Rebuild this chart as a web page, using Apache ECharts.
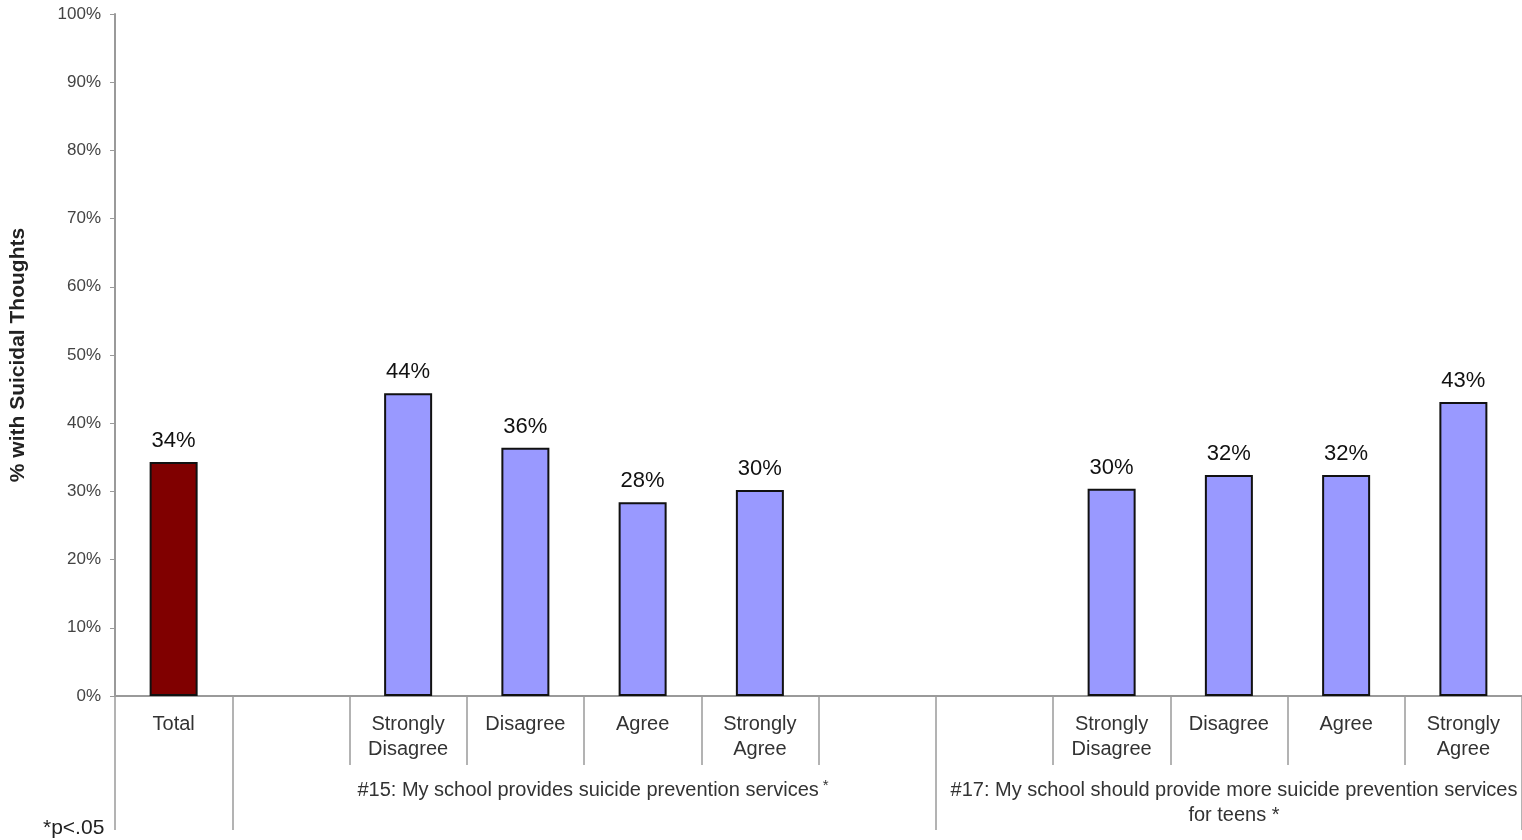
<!DOCTYPE html>
<html>
<head>
<meta charset="utf-8">
<script src="https://cdn.jsdelivr.net/npm/echarts@6/dist/echarts.min.js"></script>
<style>
html,body{margin:0;padding:0;background:#fff;}
#chart{width:1522px;height:840px;}
</style>
</head>
<body>
<div id="chart"></div>
<script>
// Data
var categories = ['Total', '', 'Strongly\nDisagree', 'Disagree', 'Agree', 'Strongly\nAgree', '', '', 'Strongly\nDisagree', 'Disagree', 'Agree', 'Strongly\nAgree'];
var values = [34.3, null, 44.4, 36.4, 28.4, 30.2, null, null, 30.4, 32.4, 32.4, 43.1];
var yTicks = [0, 10, 20, 30, 40, 50, 60, 70, 80, 90, 100];
var groupLabels = ['#15: My school provides suicide prevention services', '#17: My school should provide more suicide prevention services\nfor teens *'];
var footnote = '*p<.05';
var yTitle = '% with Suicidal Thoughts';

var FONT = '"Liberation Sans", Arial, sans-serif';
var shortTicks = [2, 3, 4, 5, 6, 8, 9, 10, 11];
var longTicks = [0, 1, 7];

var chart = echarts.init(document.getElementById('chart'), null, {renderer: 'canvas'});
var option = {
  animation: false,
  backgroundColor: '#ffffff',
  grid: {left: 115, right: -2, top: 14, bottom: 144, containLabel: false},
  xAxis: [{
    type: 'category',
    data: categories,
    position: 'bottom',
    axisLine: {show: true, lineStyle: {color: '#9a9a9a', width: 2}},
    axisTick: {show: true, length: 69, lineStyle: {color: '#9a9a9a', width: 1.5},
      interval: function (i) { return shortTicks.indexOf(i) >= 0; }},
    axisLabel: {show: true, interval: 0, margin: 16, color: '#333', fontSize: 20, lineHeight: 25, fontFamily: FONT},
    splitLine: {show: false}
  }, {
    type: 'category',
    data: categories,
    position: 'bottom',
    axisLine: {show: false},
    axisTick: {show: true, length: 134, lineStyle: {color: '#9a9a9a', width: 1.5},
      interval: function (i) { return longTicks.indexOf(i) >= 0; }},
    axisLabel: {show: false},
    splitLine: {show: false}
  }],
  yAxis: {
    type: 'value',
    min: 0, max: 100, interval: 10,
    name: yTitle,
    nameLocation: 'middle',
    nameGap: 86,
    nameTextStyle: {fontSize: 21, fontWeight: 'bold', color: '#222', fontFamily: FONT},
    axisLine: {show: true, lineStyle: {color: '#9a9a9a', width: 2}},
    axisTick: {show: true, length: 5, lineStyle: {color: '#9a9a9a'}},
    axisLabel: {margin: 14, color: '#444', fontSize: 17, fontFamily: FONT,
      formatter: function (v) { return yTicks.indexOf(v) >= 0 ? v + '%' : ''; }},
    splitLine: {show: false}
  },
  title: [{
    text: groupLabels[0] + '{s|*}',
    left: 588, top: 773,
    textAlign: 'center',
    textStyle: {fontSize: 20, fontWeight: 'normal', color: '#333', lineHeight: 25, fontFamily: FONT,
      rich: {s: {fontSize: 15, color: '#333', verticalAlign: 'top', lineHeight: 12, padding: [0, 0, 10, 4], fontFamily: FONT}}}
  }, {
    text: groupLabels[1],
    left: 1229, top: 773,
    textAlign: 'center',
    textStyle: {fontSize: 20, fontWeight: 'normal', color: '#333', lineHeight: 25, fontFamily: FONT}
  }, {
    text: footnote,
    left: 38, top: 813,
    textStyle: {fontSize: 21, fontWeight: 'normal', color: '#222', fontFamily: FONT}
  }],
  series: [{
    type: 'bar',
    xAxisIndex: 0,
    barWidth: 48,
    data: values.map(function (v, i) {
      return {value: v, itemStyle: {color: i === 0 ? '#800000' : '#9999ff'}};
    }),
    itemStyle: {borderColor: '#111', borderWidth: 2},
    label: {show: true, position: 'top', distance: 10, color: '#111', fontSize: 22, fontFamily: FONT,
      formatter: function (p) { return p.value == null ? '' : Math.round(p.value) + '%'; }}
  }]
};
chart.setOption(option);
</script>
</body>
</html>
